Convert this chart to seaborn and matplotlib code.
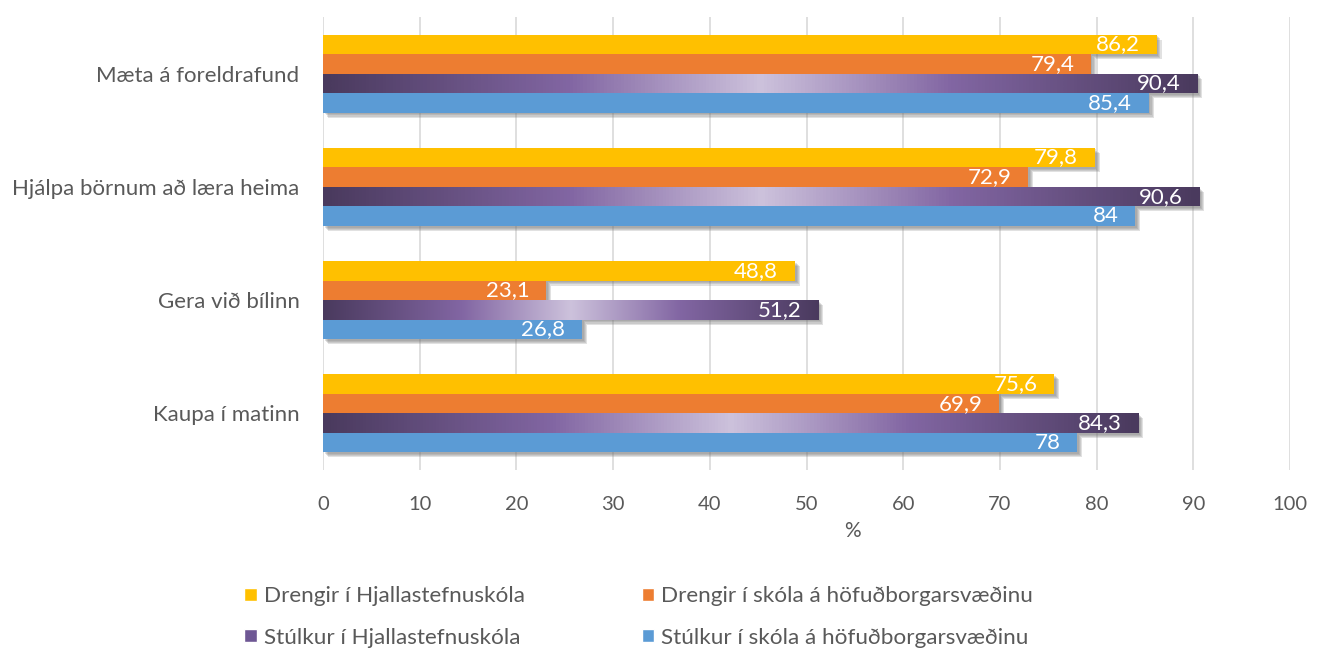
import numpy as np
import pandas as pd
import matplotlib
matplotlib.use("Agg")
import matplotlib.pyplot as plt
import matplotlib.patheffects as pe
from matplotlib.colors import LinearSegmentedColormap
from matplotlib.patches import Patch
import seaborn as sns

categories = ["Mæta á foreldrafund", "Hjálpa börnum að læra heima", "Gera við bílinn", "Kaupa í matinn"]
series = ["Drengir í Hjallastefnuskóla", "Drengir í skóla á höfuðborgarsvæðinu",
          "Stúlkur í Hjallastefnuskóla", "Stúlkur í skóla á höfuðborgarsvæðinu"]
drengir_hjalla = [86.2, 79.8, 48.8, 75.6]
drengir_hofud = [79.4, 72.9, 23.1, 69.9]
stulkur_hjalla = [90.4, 90.6, 51.2, 84.3]
stulkur_hofud = [85.4, 84, 26.8, 78]

colors = ["#FFC000", "#ED7D31", "#6E5794", "#5B9BD5"]
grey = "#595959"

rows = []
for s, vals in zip(series, [drengir_hjalla, drengir_hofud, stulkur_hjalla, stulkur_hofud]):
    for c, v in zip(categories, vals):
        rows.append({"flokkur": c, "hopur": s, "gildi": v})
df = pd.DataFrame(rows)

sns.set_style("white")
plt.rcParams["font.family"] = ["Lato", "DejaVu Sans"]

fig = plt.figure(figsize=(13.23, 6.5), dpi=100)
ax = fig.add_axes([323 / 1323, 1 - 470 / 650, (1290 - 323) / 1323, (470 - 17) / 650])

sns.barplot(data=df, x="gildi", y="flokkur", hue="hopur", order=categories, hue_order=series,
            palette=colors, saturation=1, width=0.69, gap=0, legend=False, ax=ax, zorder=2)

ax.set_xlim(0, 100)
ax.set_ylim(3.5, -0.5)
ax.set_xticks(range(0, 101, 10))
ax.grid(axis="x", color="#D9D9D9", linewidth=1.2, zorder=0)
ax.set_axisbelow(True)
for sp in ax.spines.values():
    sp.set_visible(False)
ax.tick_params(axis="both", length=0, colors=grey)
ax.tick_params(axis="x", pad=19, labelsize=14.5)
ax.tick_params(axis="y", pad=17, labelsize=16)
ax.set_xlabel("%", fontsize=15, color=grey, va="center")
ax.xaxis.set_label_coords(0.548, -0.135)
ax.set_ylabel("")

shadow = [pe.SimplePatchShadow(offset=(o, -o), shadow_rgbFace="#7a7a7a", alpha=0.22)
          for o in (1.2, 2.0, 2.8, 3.6)] + [pe.Normal()]
grad = LinearSegmentedColormap.from_list(
    "fjola", [(0, "#4A3A5E"), (0.28, "#8266A3"), (0.5, "#CDC2DC"), (0.72, "#8266A3"), (1, "#4A3A5E")])
ramp = np.linspace(0, 1, 256).reshape(1, -1)

for i, cont in enumerate(ax.containers):
    for bar in cont:
        bar.set_edgecolor("none")
        bar.set_path_effects(shadow)
        if i == 2:
            x0, y0 = bar.get_x(), bar.get_y()
            w, h = bar.get_width(), bar.get_height()
            im = ax.imshow(ramp, extent=[x0, x0 + w, y0 + h, y0], aspect="auto",
                           cmap=grad, zorder=3, interpolation="bicubic")
            im.set_clip_path(bar)
    labels = [f"{v:g}".replace(".", ",") for v in cont.datavalues]
    for bar, lab in zip(cont, labels):
        ax.annotate(lab, (bar.get_x() + bar.get_width(), bar.get_y() + bar.get_height() / 2),
                    xytext=(-12, 0), textcoords="offset points", ha="right", va="center",
                    color="white", fontsize=16, zorder=5)

ax.set_xlim(0, 100)
ax.set_ylim(3.5, -0.5)

handles = [Patch(facecolor=colors[0]), Patch(facecolor=colors[2]),
           Patch(facecolor=colors[1]), Patch(facecolor=colors[3])]
names = [series[0], series[2], series[1], series[3]]
leg = fig.legend(handles, names, ncol=2, loc="center", bbox_to_anchor=(0.4826, 0.0508),
                 frameon=False, fontsize=16.2, handlelength=0.55, handleheight=0.55,
                 handletextpad=0.3, columnspacing=5.2, labelspacing=0.95)
for t in leg.get_texts():
    t.set_color(grey)

fig.savefig("out.png", dpi=100)
